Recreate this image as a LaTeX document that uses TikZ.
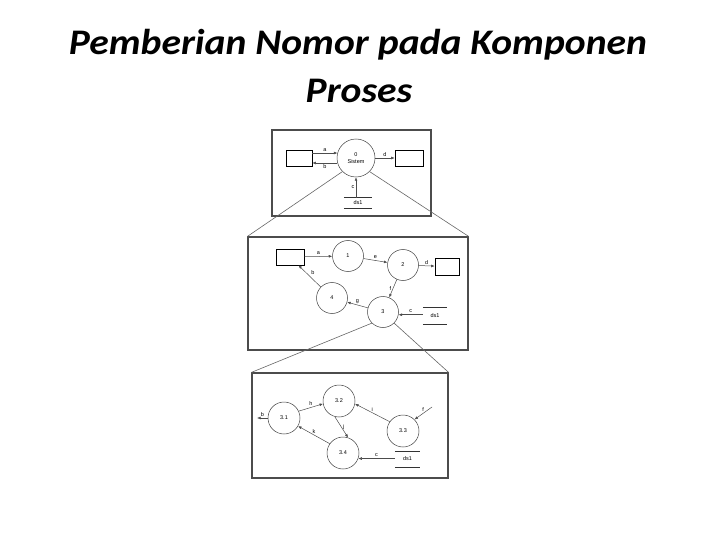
\documentclass[tikz,border=0pt]{standalone}
\usepackage{fontspec}
\setmainfont{Liberation Sans}
\newfontfamily\titlefont{Carlito}
\usetikzlibrary{arrows.meta}

\tikzset{
  process/.style={circle, draw=black!75, line width=0.5pt, minimum size=31pt, inner sep=0pt, font=\fontsize{5.5}{6.5}\selectfont},
  terminator/.style={draw=black, line width=0.6pt, inner sep=0pt},
  store/.style={inner sep=0pt, font=\fontsize{5.5}{6.5}\selectfont},
  storeline/.style={draw=black!80, line width=0.6pt},
  panel/.style={draw=black!70, line width=1.2pt, inner sep=0pt},
  flow/.style={draw=black!70, line width=0.5pt, -{Latex[length=3.5pt,width=2.8pt]}},
  zoomline/.style={draw=black!60, line width=0.6pt},
  lbl/.style={font=\fontsize{5.5}{6.5}\selectfont, inner sep=1.5pt},
  heading/.style={font=\titlefont\bfseries\itshape\fontsize{36}{43}\selectfont, anchor=base}
}

\begin{document}
\begin{tikzpicture}[x=1pt, y=-1pt]
    \useasboundingbox (0,0) rectangle (720,540);

    \node[heading] (title1) at (358,55) {\scalebox{1.1}[1]{Pemberian Nomor pada Komponen}};
    \node[heading] (title2) at (359,103) {\scalebox{1.1}[1]{Proses}};

    \node[panel, minimum width=159pt, minimum height=86pt] (level0) at (351.5,173) {};
    \node[panel, minimum width=220pt, minimum height=113pt] (level1) at (358,293.5) {};
    \node[panel, minimum width=196pt, minimum height=105pt] (level2) at (350,425.5) {};

    \node[process, minimum size=38pt, align=center] (sys) at (356,158) {0\\Sistem};
    \node[terminator, minimum width=26pt, minimum height=16pt] (ext_a) at (299,158) {};
    \node[terminator, minimum width=28pt, minimum height=16pt] (ext_d) at (409,158) {};
    \node[store, minimum width=28pt, minimum height=10pt] (ds_top) at (358,203) {ds1};
    \draw[storeline] (ds_top.north west) -- (ds_top.north east) (ds_top.south west) -- (ds_top.south east);

    \draw[flow] (ext_a.east |- sys.165) -- node[lbl, above] {a} (sys.165);
    \draw[flow] (sys.195) -- node[lbl, below] {b} (ext_a.east |- sys.195);
    \path (sys) edge[flow] node[lbl, above] {d} (ext_d);
    \draw[flow] (ds_top.north -| sys.south) -- node[lbl, left] {c} (sys.south);

    \node[terminator, minimum width=28pt, minimum height=16pt] (ext_c) at (290,257) {};
    \node[terminator, minimum width=24pt, minimum height=17pt] (ext_e) at (447,266.5) {};
    \node[process] (proc1) at (348,256) {1};
    \node[process] (proc2) at (403,265) {2};
    \node[process] (proc3) at (383,312) {3};
    \node[process] (proc4) at (332,298) {4};
    \node[store, minimum width=24pt, minimum height=17pt] (ds_mid) at (435,315.5) {ds1};
    \draw[storeline] (ds_mid.north west) -- (ds_mid.north east) (ds_mid.south west) -- (ds_mid.south east);

    \path (ext_c) edge[flow] node[lbl, above] {a} (proc1);
    \path (proc1) edge[flow] node[lbl, above] {e} (proc2);
    \path (proc2) edge[flow] node[lbl, above] {d} (ext_e);
    \path (proc2) edge[flow] node[lbl, left] {f} (proc3);
    \draw[flow] (ds_mid.west |- proc3.350) -- node[lbl, above] {c} (proc3.350);
    \path (proc3) edge[flow] node[lbl, above] {g} (proc4);
    \path (proc4) edge[flow] node[lbl, above right] {b} (ext_c);

    \node[process, minimum size=32pt] (sub1) at (284,418) {3.1};
    \node[process, minimum size=32pt] (sub2) at (339,401) {3.2};
    \node[process, minimum size=32pt] (sub3) at (403,431) {3.3};
    \node[process, minimum size=32pt] (sub4) at (343,453) {3.4};
    \node[store, minimum width=25pt, minimum height=16pt] (ds_low) at (407.5,459) {ds1};
    \draw[storeline] (ds_low.north west) -- (ds_low.north east) (ds_low.south west) -- (ds_low.south east);
    \coordinate (out_b) at (257,418);
    \coordinate (in_f) at (432,407);

    \draw[flow] (sub1.west) -- node[lbl, above] {b} (out_b);
    \path (sub1.25) edge[flow] node[lbl, above] {h} (sub2.190);
    \path (sub3.145) edge[flow] node[lbl, above] {i} (sub2.350);
    \path (in_f) edge[flow] node[lbl, above] {f} (sub3.45);
    \path (sub2.255) edge[flow] node[lbl, right] {j} (sub4.72);
    \path (sub4.145) edge[flow] node[lbl, above] {k} (sub1.330);
    \draw[flow] (ds_low.west |- sub4.340) -- node[lbl, above] {c} (sub4.340);

    \draw[zoomline] (sys.225) -- (level1.north west);
    \draw[zoomline] (sys.315) -- (level1.north east);
    \draw[zoomline] (proc3.225) -- (level2.north west);
    \draw[zoomline] (proc3.315) -- (level2.north east);
\end{tikzpicture}
\end{document}
